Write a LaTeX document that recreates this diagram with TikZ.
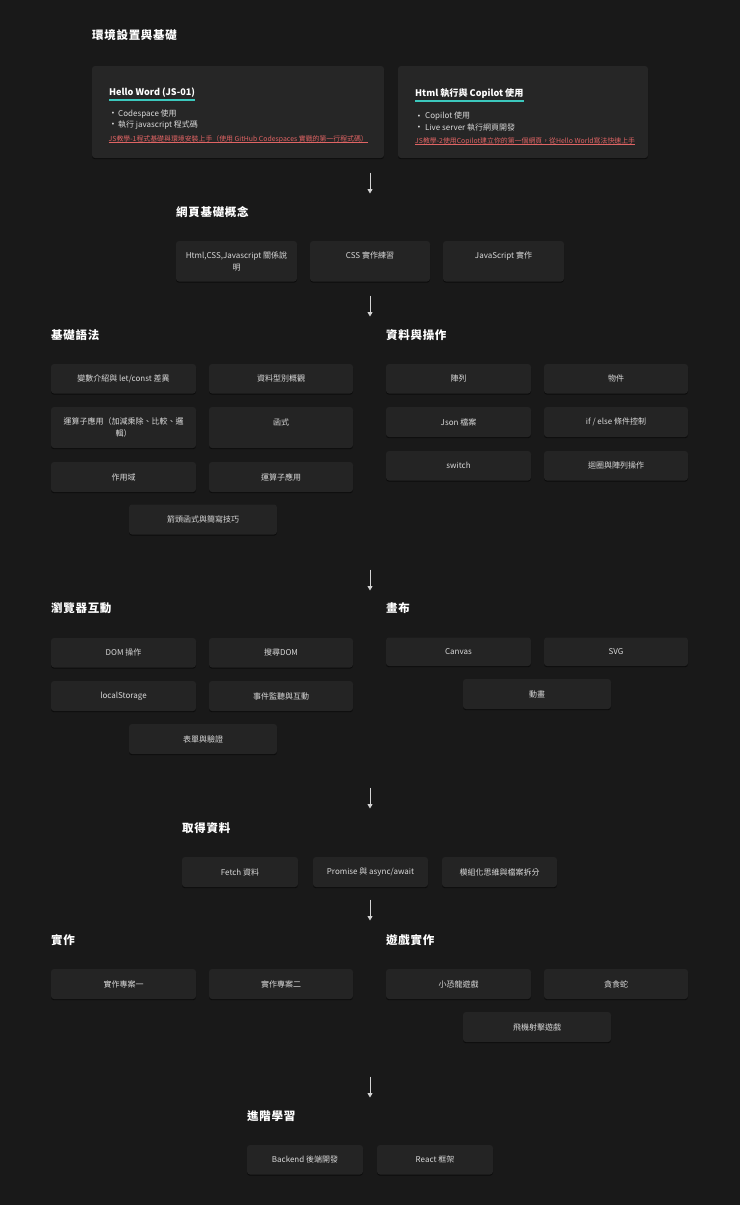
\documentclass[tikz,border=0pt]{standalone}
\usepackage{fontspec}
\setmainfont{Noto Sans CJK TC}
\newfontfamily\titlefont[LetterSpace=6]{Noto Sans CJK TC}
\newfontfamily\symbfont{DejaVu Sans}
\usetikzlibrary{arrows.meta,shadows}
\definecolor{bgc}{HTML}{191919}
\definecolor{boxc}{HTML}{242424}
\definecolor{cardc}{HTML}{262626}
\definecolor{txtc}{HTML}{DADADA}
\definecolor{accentc}{HTML}{3CC8BD}
\definecolor{linkc}{HTML}{E06464}
\definecolor{arrc}{HTML}{D4D4D4}
\tikzset{
  shade box/.style={drop shadow={shadow xshift=0pt, shadow yshift=-1.2pt, opacity=0.5, fill=black}},
  box/.style={fill=boxc, rounded corners=3pt, text=txtc, font=\fontsize{8}{11.5}\selectfont, align=center, inner sep=0pt, shade box},
  card/.style={fill=cardc, rounded corners=3pt, inner sep=0pt, shade box},
  sectitle/.style={anchor=west, text=white, font=\titlefont\bfseries\fontsize{11.5}{14}\selectfont, inner sep=0pt},
  cardtitle/.style={anchor=west, text=white, font=\bfseries\fontsize{9.1}{11}\selectfont, inner sep=0pt},
  bulletmark/.style={text=txtc, font=\symbfont\fontsize{6.5}{8}\selectfont, inner sep=0pt},
  bullettext/.style={anchor=west, text=txtc, font=\fontsize{8}{10}\selectfont, inner sep=0pt},
  linktext/.style={anchor=west, text=linkc, font=\fontsize{6.9}{9}\selectfont, inner sep=0pt},
  flow/.style={draw=arrc, line width=0.9pt, -{Triangle[width=5pt,length=4.5pt]}},
}
\newcommand\bx[6]{\node[box, minimum width={#4pt-#2pt}, minimum height={#5pt-#3pt}] (#1) at ({(#2+#4)/2},{(#3+#5)/2}) {#6};}
\begin{document}
\begin{tikzpicture}[x=1pt,y=-1pt]
\fill[bgc] (0,0) rectangle (740,1205);

% ---- section 0
\node[sectitle] (t0) at (92,35) {環境設置與基礎};
\node[card, minimum width=292pt, minimum height=92pt] (c1) at (238,112) {};
\node[card, minimum width=250pt, minimum height=92pt] (c2) at (523,112) {};

\node[cardtitle] (h1) at (109,92.5) {Hello Word (JS-01)};
\draw[accentc, line width=2pt] ([yshift=-2.5pt]h1.south west) -- ([yshift=-2.5pt]h1.south east);
\node[bulletmark] (m11) at (113,114.3) {•};
\node[bullettext] (b11) at (118,114.3) {Codespace 使用};
\node[bulletmark] (m12) at (113,125.3) {•};
\node[bullettext] (b12) at (118,125.3) {執行 javascript 程式碼};
\node[linktext] (l1) at (108.5,139.5) {JS教學-1程式基礎與環境安裝上手（使用 GitHub Codespaces 實戰的第一行程式碼）};
\draw[linkc, line width=0.5pt] ([yshift=1.2pt]l1.south west) -- ([yshift=1.2pt]l1.south east);

\node[cardtitle] (h2) at (415,93.3) {Html 執行與 Copilot 使用};
\draw[accentc, line width=2pt] ([yshift=-2.5pt]h2.south west) -- ([yshift=-2.5pt]h2.south east);
\node[bulletmark] (m21) at (419,116.5) {•};
\node[bullettext] (b21) at (425,116.5) {Copilot 使用};
\node[bulletmark] (m22) at (419,127.5) {•};
\node[bullettext] (b22) at (425,127.5) {Live server 執行網頁開發};
\node[linktext] (l2) at (415,141.3) {JS教學-2使用Copilot建立你的第一個網頁，從Hello World寫法快速上手};
\draw[linkc, line width=0.5pt] ([yshift=1.2pt]l2.south west) -- ([yshift=1.2pt]l2.south east);

\coordinate (a1s) at (370,172.5);
\coordinate (a1e) at (370,193.5);
\draw[flow] (a1s) -- (a1e);

% ---- section 1
\node[sectitle] (t1) at (176,212) {網頁基礎概念};
\bx{w1}{176}{241}{297}{281.5}{Html,CSS,Javascript 關係說\\明}
\bx{w2}{310}{241}{430}{281.5}{CSS 實作練習\\~}
\bx{w3}{443}{241}{564}{281.5}{JavaScript 實作\\~}

\coordinate (a2s) at (370,295.5);
\coordinate (a2e) at (370,316.5);
\draw[flow] (a2s) -- (a2e);

% ---- section 2
\node[sectitle] (t2a) at (51,335) {基礎語法};
\node[sectitle] (t2b) at (386,335) {資料與操作};
\bx{s1}{51}{364}{196}{393.5}{變數介紹與 let/const 差異}
\bx{s2}{209}{364}{353}{393.5}{資料型別概觀}
\bx{s3}{51}{407}{196}{448}{運算子應用（加減乘除、比較、邏\\輯）}
\bx{s4}{209}{407}{353}{448}{函式\\~}
\bx{s5}{51}{462}{196}{492}{作用域}
\bx{s6}{209}{462}{353}{492}{運算子應用}
\bx{s7}{129}{504.5}{277}{534.5}{箭頭函式與簡寫技巧}

\bx{d1}{386}{364}{531}{393.5}{陣列}
\bx{d2}{544}{364}{688}{393.5}{物件}
\bx{d3}{386}{407}{531}{437}{Json 檔案}
\bx{d4}{544}{407}{688}{437}{if / else 條件控制}
\bx{d5}{386}{451}{531}{480.5}{switch}
\bx{d6}{544}{451}{688}{480.5}{迴圈與陣列操作}

\coordinate (a3s) at (370,569.5);
\coordinate (a3e) at (370,590.5);
\draw[flow] (a3s) -- (a3e);

% ---- section 3
\node[sectitle] (t3a) at (51,608) {瀏覽器互動};
\node[sectitle] (t3b) at (386,608) {畫布};
\bx{r1}{51}{638}{196}{667.5}{DOM 操作}
\bx{r2}{209}{638}{353}{667.5}{搜尋DOM}
\bx{r3}{51}{681}{196}{711}{localStorage}
\bx{r4}{209}{681}{353}{711}{事件監聽與互動}
\bx{r5}{129}{724}{277}{754}{表單與驗證}

\bx{v1}{386}{637.5}{531}{666}{Canvas}
\bx{v2}{544}{637.5}{688}{666}{SVG}
\bx{v3}{463}{679}{611}{709}{動畫}

\coordinate (a4s) at (370,787.5);
\coordinate (a4e) at (370,808.5);
\draw[flow] (a4s) -- (a4e);

% ---- section 4
\node[sectitle] (t4) at (182,828) {取得資料};
\bx{f1}{182}{857}{298}{887}{Fetch 資料}
\bx{f2}{313}{857}{428}{887}{Promise 與 async/await}
\bx{f3}{442}{857}{557}{887}{模組化思維與檔案拆分}

\coordinate (a5s) at (370,899.5);
\coordinate (a5e) at (370,920.5);
\draw[flow] (a5s) -- (a5e);

% ---- section 5
\node[sectitle] (t5a) at (51,940) {實作};
\node[sectitle] (t5b) at (386,940) {遊戲實作};
\bx{p1}{51}{969}{196}{999}{實作專案一}
\bx{p2}{209}{969}{353}{999}{實作專案二}
\bx{g1}{386}{969}{531}{999}{小恐龍遊戲}
\bx{g2}{544}{969}{688}{999}{貪食蛇}
\bx{g3}{463}{1012}{611}{1042}{飛機射擊遊戲}

\coordinate (a6s) at (370,1076.5);
\coordinate (a6e) at (370,1097.5);
\draw[flow] (a6s) -- (a6e);

% ---- section 6
\node[sectitle] (t6) at (247,1116) {進階學習};
\bx{e1}{247}{1145}{363}{1174.5}{Backend 後端開發}
\bx{e2}{377}{1145}{493}{1174.5}{React 框架}
\end{tikzpicture}
\end{document}
